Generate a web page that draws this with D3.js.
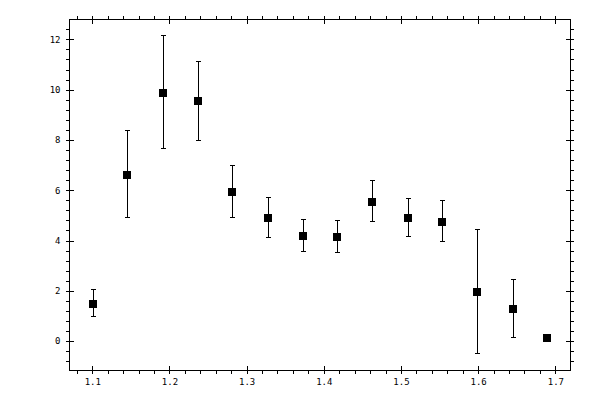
<!DOCTYPE html>
<html>
<head>
<meta charset="utf-8">
<script src="https://cdn.jsdelivr.net/npm/d3@7"></script>
<style>
  body { margin: 0; background: #fff; }
  svg { display: block; }
  .axis path, .axis line { stroke: #000; stroke-width: 1; shape-rendering: crispEdges; }
  .axis text { font-family: "DejaVu Sans Mono", monospace; font-size: 9px; fill: #000; }
</style>
</head>
<body>
<div id="chart"></div>
<script>
// data
var xVals = [1.100, 1.145, 1.191, 1.236, 1.281, 1.327, 1.372, 1.417, 1.462, 1.508, 1.553, 1.598, 1.644, 1.689];
var yVals = [1.50, 6.63, 9.89, 9.57, 5.95, 4.92, 4.20, 4.16, 5.56, 4.92, 4.76, 1.98, 1.30, 0.15];
var yHigh = [2.06, 8.37, 12.17, 11.12, 6.99, 5.72, 4.84, 4.80, 6.39, 5.68, 5.60, 4.44, 2.45, 0.15];
var yLow  = [0.98, 4.93, 7.66, 7.98, 4.92, 4.12, 3.57, 3.53, 4.76, 4.16, 3.97, -0.49, 0.16, 0.15];

var xTicks = [1.1, 1.2, 1.3, 1.4, 1.5, 1.6, 1.7];
var yTicks = [0, 2, 4, 6, 8, 10, 12];
var xMinor = d3.range(1.08, 1.72, 0.02);
var yMinor = d3.range(-0.8, 12.8, 0.4);

var margin = {top: 19.5, right: 30, bottom: 30, left: 69.5},
  width = 600 - margin.left - margin.right,
  height = 370 - margin.top;

var svg = d3.select("#chart").append("svg")
  .attr("width", 600)
  .attr("height", 400);

var g = svg.append("g")
  .attr("transform", "translate(" + margin.left + "," + margin.top + ")");

var x = d3.scaleLinear().domain([1.0705, 1.719]).range([0, width]);
var y = d3.scaleLinear().domain([-1.15, 12.79]).range([height, 0]);

// frame
g.append("rect")
  .attr("width", width).attr("height", height)
  .attr("fill", "none").attr("stroke", "#000")
  .attr("shape-rendering", "crispEdges");

function addAxis(axis, tr, vals, size, labels) {
  var a = axis.tickValues(vals).tickSizeInner(size).tickSizeOuter(0).tickPadding(5);
  if (!labels) a.tickFormat("");
  else a.tickFormat(d3.format("~g"));
  var s = g.append("g").attr("class", "axis").attr("transform", tr).call(a);
  s.select(".domain").remove();
  return s;
}

// bottom
addAxis(d3.axisBottom(x), "translate(0," + height + ")", xMinor, 3.5, false);
addAxis(d3.axisBottom(x), "translate(0," + height + ")", xTicks, 4, true);
addAxis(d3.axisBottom(x), "translate(0," + height + ")", xTicks, -4, false);
// top
addAxis(d3.axisTop(x), "translate(0,0)", xMinor, 3.5, false);
addAxis(d3.axisTop(x), "translate(0,0)", xTicks, 4, false);
addAxis(d3.axisTop(x), "translate(0,0)", xTicks, -4, false);
// left
addAxis(d3.axisLeft(y), "translate(0,0)", yMinor, 3.5, false);
addAxis(d3.axisLeft(y), "translate(0,0)", yTicks, 4, true);
addAxis(d3.axisLeft(y), "translate(0,0)", yTicks, -4, false);
// right
addAxis(d3.axisRight(y), "translate(" + width + ",0)", yMinor, 3.5, false);
addAxis(d3.axisRight(y), "translate(" + width + ",0)", yTicks, 4, false);
addAxis(d3.axisRight(y), "translate(" + width + ",0)", yTicks, -4, false);

var pts = xVals.map(function(d, i) {
  return {x: d, y: yVals[i], hi: yHigh[i], lo: yLow[i]};
});

// error bars
var eb = g.append("g").attr("stroke", "#000").attr("stroke-width", 1).attr("shape-rendering", "crispEdges");
pts.forEach(function(p) {
  if (p.hi - p.lo <= 0) return;
  var cx = Math.round(x(p.x)) + 0.5;
  eb.append("line").attr("x1", cx).attr("x2", cx).attr("y1", y(p.hi)).attr("y2", y(p.lo));
  eb.append("line").attr("x1", cx - 2.5).attr("x2", cx + 2.5).attr("y1", y(p.hi)).attr("y2", y(p.hi));
  eb.append("line").attr("x1", cx - 2.5).attr("x2", cx + 2.5).attr("y1", y(p.lo)).attr("y2", y(p.lo));
});

// markers
g.selectAll("rect.pt")
  .data(pts)
  .enter()
  .append("rect")
  .attr("class", "pt")
  .attr("x", d => Math.round(x(d.x)) - 3.5)
  .attr("y", d => Math.round(y(d.y)) - 4)
  .attr("width", 8)
  .attr("height", 8)
  .attr("fill", "#000")
  .attr("shape-rendering", "crispEdges");
</script>
</body>
</html>
